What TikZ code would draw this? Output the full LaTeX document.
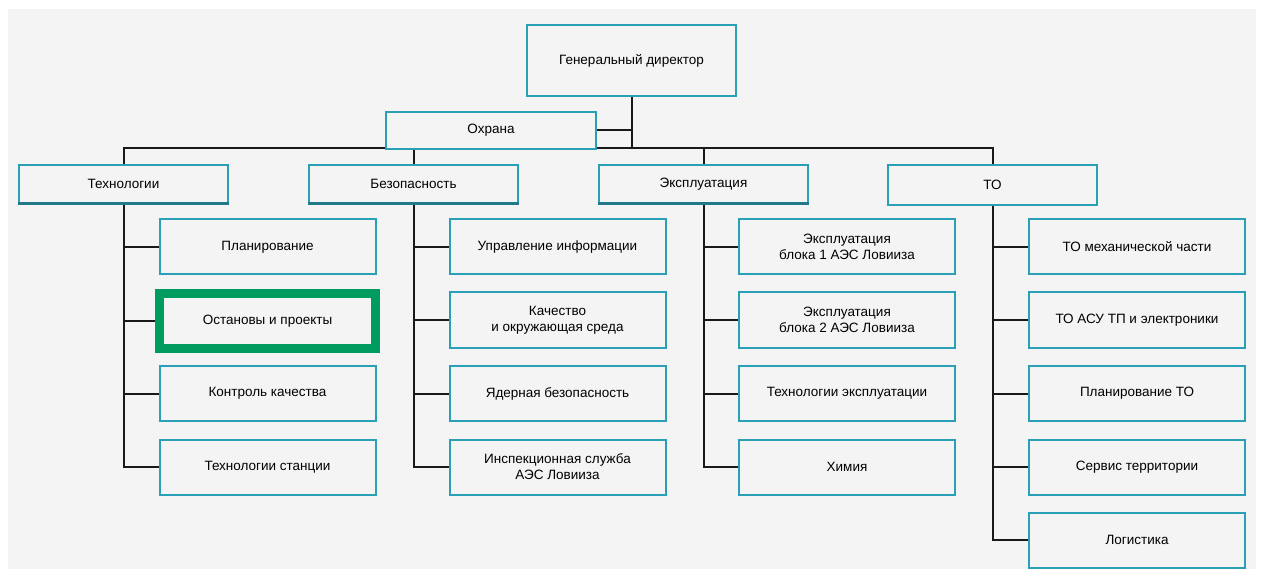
\documentclass[tikz,border=0pt]{standalone}
\usepackage{fontspec}
\setmainfont{Liberation Sans}
\usetikzlibrary{backgrounds}
\definecolor{boxline}{RGB}{42,160,182}
\definecolor{bggray}{RGB}{244,244,244}
\definecolor{hilite}{RGB}{0,155,95}
\begin{document}
\begin{tikzpicture}[x=1pt,y=-1pt,
    unit/.style={draw=boxline,line width=2pt,fill=bggray,minimum width=209pt,minimum height=38pt,inner sep=0pt,align=center,font=\fontsize{13.5}{16}\selectfont},
    sub/.style={unit,minimum width=216pt,minimum height=55pt},
    cur/.style={sub,draw=hilite,line width=9pt},
    link/.style={line width=2pt,black!90}]
    \useasboundingbox (0,0) rectangle (1261,569);
    \node[unit,minimum height=71pt] (dir) at (631.5,60.5) {Генеральный директор};
    \node[unit,minimum width=210pt,minimum height=37pt] (okh) at (491,130.5) {Охрана};
    \coordinate (bus) at (631.5,148);
    \node[unit] (tech) at (123.5,184) {Технологии};
    \node[unit] (bez) at (413.5,184) {Безопасность};
    \node[unit] (expl) at (703.5,184) {Эксплуатация};
    \node[unit,minimum height=40pt] (to) at (992.5,185) {ТО};
    \node[sub] (t1) at (267.5,247) {Планирование};
    \node[cur] (t2) at (267.5,321) {Остановы и проекты};
    \node[sub] (t3) at (267.5,393.5) {Контроль качества};
    \node[sub] (t4) at (267.5,467) {Технологии станции};
    \node[sub] (b1) at (557.5,247) {Управление информации};
    \node[sub] (b2) at (557.5,320) {Качество\\и окружающая среда};
    \node[sub] (b3) at (557.5,393.5) {Ядерная безопасность};
    \node[sub] (b4) at (557.5,467) {Инспекционная служба\\АЭС Ловииза};
    \node[sub] (e1) at (847,247) {Эксплуатация\\блока 1 АЭС Ловииза};
    \node[sub] (e2) at (847,320) {Эксплуатация\\блока 2 АЭС Ловииза};
    \node[sub] (e3) at (847,393.5) {Технологии эксплуатации};
    \node[sub] (e4) at (847,467) {Химия};
    \node[sub] (m1) at (1137,247) {ТО механической части};
    \node[sub] (m2) at (1137,320) {ТО АСУ ТП и электроники};
    \node[sub] (m3) at (1137,393.5) {Планирование ТО};
    \node[sub] (m4) at (1137,467) {Сервис территории};
    \node[sub] (m5) at (1137,540) {Логистика};
    \foreach \u in {tech,bez,expl} \draw[boxline!75!black,line width=3pt] (\u.south west) -- (\u.south east);
    \begin{scope}[on background layer]
        \fill[bggray] (8,9) rectangle (1256,569);
        \draw[link] (dir.south) -- (bus);
        \draw[link] (okh.east) -- (okh.east -| bus);
        \draw[link] (tech.north) |- (bus) -| (to.north);
        \draw[link] (bez.north) -- (bez.north |- bus) (expl.north) -- (expl.north |- bus);
        \foreach \p/\c in {tech/t1,tech/t2,tech/t3,tech/t4,bez/b1,bez/b2,bez/b3,bez/b4,expl/e1,expl/e2,expl/e3,expl/e4,to/m1,to/m2,to/m3,to/m4,to/m5}
            \draw[link] (\p.south) |- (\c.west);
    \end{scope}
\end{tikzpicture}
\end{document}
